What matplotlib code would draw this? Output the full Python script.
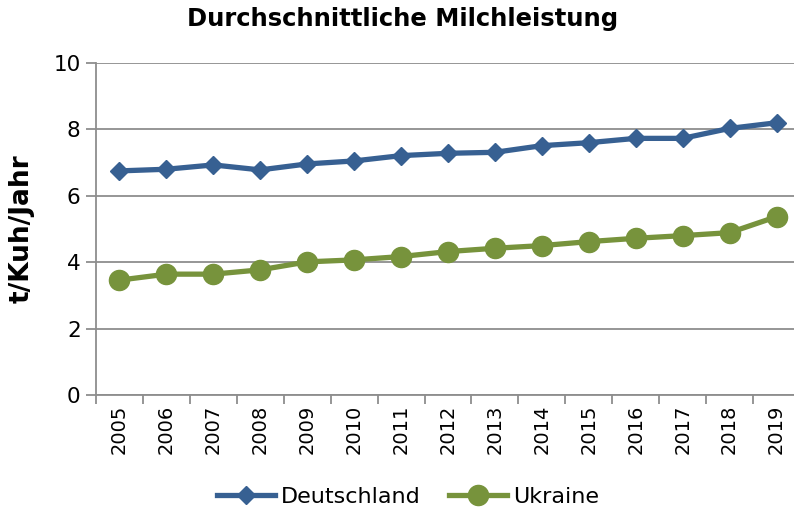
import matplotlib
matplotlib.use("Agg")
import matplotlib.pyplot as plt
import numpy as np

plt.rcParams['font.family'] = ['DejaVu Sans']

years = [str(y) for y in range(2005, 2020)]
deutschland = [6.75, 6.80, 6.93, 6.78, 6.96, 7.05, 7.21, 7.28, 7.31, 7.51, 7.60, 7.73, 7.73, 8.03, 8.20]
ukraine = [3.46, 3.64, 3.64, 3.77, 4.01, 4.07, 4.17, 4.32, 4.42, 4.50, 4.62, 4.72, 4.80, 4.89, 5.37]
yticks = [0, 2, 4, 6, 8, 10]

blue = '#376092'
green = '#77933C'
grid = '#8e8e8e'

fig = plt.figure(figsize=(7.94, 5.15), dpi=100)
ax = fig.add_axes([96/794, 1-395/515, 704/794, 332/515])

x = np.arange(len(years))
ax.plot(x, deutschland, color=blue, lw=3.8, marker='D', markersize=8.7, label='Deutschland',
        solid_joinstyle='round', zorder=3)
ax.plot(x, ukraine, color=green, lw=3.8, marker='o', markersize=14.5, label='Ukraine',
        solid_joinstyle='round', zorder=3)

ax.set_xlim(-0.5, len(years)-0.5)
ax.set_ylim(0, 10)
ax.set_yticks(yticks)
ax.set_yticklabels([str(v) for v in yticks], fontsize=15.5)
ax.set_xticks(x)
ax.set_xticklabels(years, rotation=90, fontsize=14)
ax.set_xticks(np.arange(-0.5, len(years)), minor=True)
ax.tick_params(axis='x', which='major', length=0, pad=7)
ax.tick_params(axis='x', which='minor', length=6.5, color=grid, width=1.3)
ax.tick_params(axis='y', length=7, color=grid, width=1.3, pad=4)

ax.yaxis.grid(True, color=grid, lw=1.3)
ax.set_axisbelow(True)
for s in ['top', 'right']:
    ax.spines[s].set_visible(False)
for s in ['left', 'bottom']:
    ax.spines[s].set_color(grid)
    ax.spines[s].set_linewidth(1.3)

ax.set_ylabel('t/Kuh/Jahr', fontsize=19, fontweight='bold')
ax.yaxis.set_label_coords((35-96)/704, 0.5)
fig.text(403/794, 1-19/515, 'Durchschnittliche Milchleistung', ha='center', va='center',
         fontsize=17.5, fontweight='bold')

leg = fig.legend(loc='center', bbox_to_anchor=(408/794, 1-497/515), ncol=2, frameon=False,
                 fontsize=16, handlelength=2.6, columnspacing=1.3, handletextpad=0.25,
                 borderpad=0, borderaxespad=0)

fig.savefig('out.png', dpi=100)
